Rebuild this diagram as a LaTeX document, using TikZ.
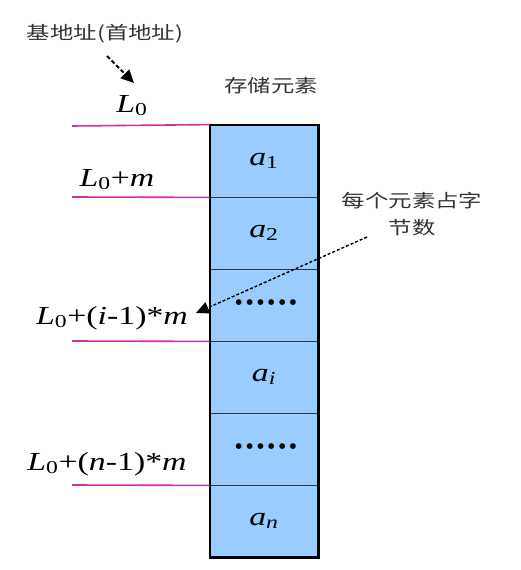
\documentclass[tikz,border=0pt]{standalone}
\usepackage{fontspec}
\setmainfont{Liberation Serif}
\newfontfamily\cjk{Noto Sans CJK SC}
\usetikzlibrary{arrows.meta}
\definecolor{cellblue}{HTML}{99CCFF}
\definecolor{mag}{HTML}{CC3399}
\definecolor{cjkgray}{HTML}{333333}
\newcommand{\wide}[1]{\scalebox{1.3}[1]{#1}}
\newcommand{\sixdots}{\textbf{•\hspace{3.5pt}•\hspace{3.5pt}•\hspace{3.5pt}•\hspace{3.5pt}•\hspace{3.5pt}•}}
\tikzset{
  cell/.style={draw=black!80, line width=0.8pt, fill=cellblue, minimum width=108pt, minimum height=72pt, inner sep=0pt, font=\fontsize{26}{30}\selectfont},
  lbl/.style={inner sep=0pt, anchor=base, font=\fontsize{26}{30}\selectfont},
  dotlbl/.style={inner sep=0pt, font=\fontsize{21}{24}\selectfont},
  cjklbl/.style={inner sep=0pt, text=cjkgray, font=\cjk\fontsize{18}{27}\selectfont, align=center},
  magline/.style={draw=mag, line width=1.6pt},
  dashedarrow/.style={dashed, line width=1.6pt, dash pattern=on 4pt off 2.5pt, -{Triangle[length=13pt,width=12pt]}},
}
\begin{document}
\begin{tikzpicture}[x=1pt,y=-1pt]
\useasboundingbox (0,0) rectangle (520,570);
% cells
\node[cell] (c1) at (264,161) {\wide{\textit{a}\textsubscript{1}}};
\node[cell] (c2) at (264,233) {\wide{\textit{a}\textsubscript{2}}};
\node[cell] (c3) at (264,305) {};
\node[cell] (c4) at (264,377) {\wide{\textit{a}\textsubscript{\textit{i}}}};
\node[cell] (c5) at (264,449) {};
\node[cell] (c6) at (264,521) {\wide{\textit{a}\textsubscript{\textit{n}}}};
\node[dotlbl] (d1) at (266,305) {\sixdots};
\node[dotlbl] (d2) at (266,449) {\sixdots};
\draw[line width=2.2pt] (c1.north west) rectangle (c6.south east);
% magenta lines
\coordinate (m1) at (72,126);
\coordinate (m2) at (72,197);
\coordinate (m3) at (72,341);
\coordinate (m4) at (72,485);
\draw[magline] (m1) -- (c1.north west);
\draw[magline] (m2) -- (c1.south west);
\draw[magline] (m3) -- (c3.south west);
\draw[magline] (m4) -- (c5.south west);
% address labels
\node[lbl] (L0) at (132,112) {\wide{\textit{L}\textsubscript{0}}};
\node[lbl] (L1) at (117,186) {\wide{\textit{L}\textsubscript{0}+\textit{m}}};
\node[lbl] (Li) at (112,324) {\wide{\textit{L}\textsubscript{0}+(\textit{i}-1)*\textit{m}}};
\node[lbl] (Ln) at (107,470) {\wide{\textit{L}\textsubscript{0}+(\textit{n}-1)*\textit{m}}};
% chinese labels
\node[cjklbl] (base) at (105,34) {\wide{基地址(首地址)}};
\node[cjklbl] (store) at (271,86) {\wide{存储元素}};
\node[cjklbl] (size) at (412,214) {\wide{每个元素占字}\\\wide{节数}};
% arrows
\coordinate (a1s) at (107,56);
\coordinate (a1e) at (134,83);
\draw[dashedarrow, line width=2pt] (a1s) -- (a1e);
\coordinate (a2s) at (367,237);
\coordinate (a2e) at (196,313);
\draw[dashedarrow, line width=1.4pt, dash pattern=on 3pt off 2pt] (a2s) -- (a2e);
\end{tikzpicture}
\end{document}
